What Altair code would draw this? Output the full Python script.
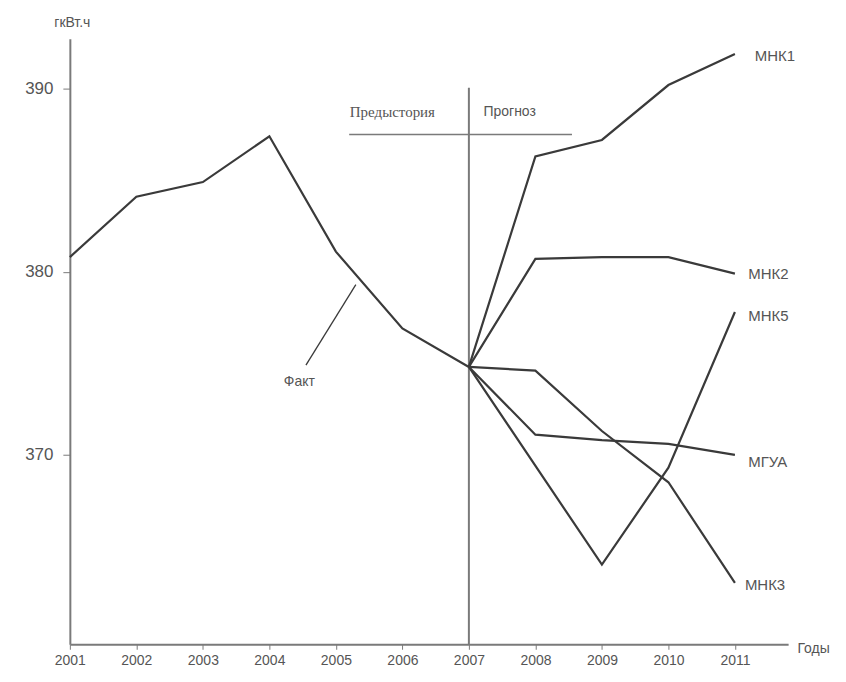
import altair as alt
import pandas as pd

# ---- data ----
fact_years = [2001, 2002, 2003, 2004, 2005, 2006, 2007]
fact_vals = [380.8, 384.1, 384.9, 387.4, 381.1, 376.9, 374.8]

mnk1_years = [2007, 2008, 2009, 2010, 2011]
mnk1_vals = [374.8, 386.3, 387.2, 390.2, 391.9]

mnk2_years = [2007, 2008, 2009, 2010, 2011]
mnk2_vals = [374.8, 380.7, 380.8, 380.8, 379.9]

mnk5_years = [2007, 2009, 2010, 2011]
mnk5_vals = [374.8, 364.0, 369.3, 377.8]

mgua_years = [2007, 2008, 2009, 2010, 2011]
mgua_vals = [374.8, 371.1, 370.8, 370.6, 370.0]

mnk3_years = [2007, 2008, 2009, 2010, 2011]
mnk3_vals = [374.8, 374.6, 371.3, 368.5, 363.0]

label_names = ["МНК1", "МНК2", "МНК5", "МГУА", "МНК3"]
label_years = [2011.3, 2011.2, 2011.2, 2011.2, 2011.15]
label_vals = [391.8, 379.9, 377.6, 369.6, 362.9]

x_ticks = list(range(2001, 2012))
y_ticks = [370, 380, 390]

x_domain = [2001, 2011.8]
y_domain = [359.65, 392.73]

LINE = "#3a3a3a"
AXIS = "#7a7a7a"
TXT = "#555555"

rows = []
for name, ys, vs in [("Факт", fact_years, fact_vals), ("МНК1", mnk1_years, mnk1_vals),
                     ("МНК2", mnk2_years, mnk2_vals), ("МНК5", mnk5_years, mnk5_vals),
                     ("МГУА", mgua_years, mgua_vals), ("МНК3", mnk3_years, mnk3_vals)]:
    for y, v in zip(ys, vs):
        rows.append({"series": name, "year": y, "value": v})
df = pd.DataFrame(rows)

xs = alt.Scale(domain=x_domain, nice=False, zero=False)
ys_ = alt.Scale(domain=y_domain, nice=False, zero=False)

base = alt.Chart(df)

lines = base.mark_line(color=LINE, strokeWidth=2.2).encode(
    x=alt.X("year:Q", scale=xs,
            axis=alt.Axis(values=x_ticks, format="d", title="Годы", grid=False,
                          domainColor=AXIS, domainWidth=2, tickColor=AXIS, tickSize=5,
                          labelColor=TXT, labelFontSize=14, labelFont="Liberation Sans",
                          labelPadding=4, labelFlush=False,
                          titleColor=TXT, titleFontSize=14, titleFont="Liberation Sans",
                          titleFontWeight="normal", titleX=745, titleY=4,
                          titleAlign="center", titleBaseline="middle")),
    y=alt.Y("value:Q", scale=ys_,
            axis=alt.Axis(values=y_ticks, title="гкВт.ч", grid=False,
                          domainColor=AXIS, domainWidth=2, tickColor=AXIS, tickSize=7,
                          labelColor=TXT, labelFontSize=17, labelFont="Liberation Sans",
                          labelPadding=10,
                          titleColor=TXT, titleFontSize=14, titleFont="Liberation Sans",
                          titleFontWeight="normal", titleAngle=0, titleX=2, titleY=-16,
                          titleAlign="center", titleBaseline="middle")),
    detail="series:N",
)

# end labels
lab_df = pd.DataFrame({"name": label_names, "year": label_years, "value": label_vals})
end_labels = alt.Chart(lab_df).mark_text(
    align="left", baseline="middle", fontSize=15, font="Liberation Sans", color=TXT
).encode(x=alt.X("year:Q", scale=xs), y=alt.Y("value:Q", scale=ys_), text="name:N")

# divider: vertical line at 2007 and horizontal line under captions
div_v = pd.DataFrame({"x": [2007], "y1": [390.05], "y2": [y_domain[0]]})
vline = alt.Chart(div_v).mark_rule(color=AXIS, strokeWidth=2).encode(
    x=alt.X("x:Q", scale=xs), y=alt.Y("y1:Q", scale=ys_), y2="y2:Q")

div_h = pd.DataFrame({"x1": [2005.2], "x2": [2008.55], "y": [387.5]})
hline = alt.Chart(div_h).mark_rule(color=AXIS, strokeWidth=1.5).encode(
    x=alt.X("x1:Q", scale=xs), x2="x2:Q", y=alt.Y("y:Q", scale=ys_))

cap1 = pd.DataFrame({"x": [2005.85], "y": [388.7], "t": ["Предыстория"]})
cap1_t = alt.Chart(cap1).mark_text(fontSize=15, font="Liberation Serif", color=TXT,
                                   align="center", baseline="middle").encode(
    x=alt.X("x:Q", scale=xs), y=alt.Y("y:Q", scale=ys_), text="t:N")

cap2 = pd.DataFrame({"x": [2007.22], "y": [388.7], "t": ["Прогноз"]})
cap2_t = alt.Chart(cap2).mark_text(fontSize=14, font="Liberation Sans", color=TXT,
                                   align="left", baseline="middle").encode(
    x=alt.X("x:Q", scale=xs), y=alt.Y("y:Q", scale=ys_), text="t:N")

# Факт leader line and label
lead = pd.DataFrame({"x1": [2005.3], "y1": [379.3], "x2": [2004.55], "y2": [374.9]})
lead_r = alt.Chart(lead).mark_rule(color=LINE, strokeWidth=1.3).encode(
    x=alt.X("x1:Q", scale=xs), y=alt.Y("y1:Q", scale=ys_), x2="x2:Q", y2="y2:Q")
fact_lab = pd.DataFrame({"x": [2004.45], "y": [374.0], "t": ["Факт"]})
fact_t = alt.Chart(fact_lab).mark_text(fontSize=14, font="Liberation Sans", color=TXT,
                                       align="center", baseline="middle").encode(
    x=alt.X("x:Q", scale=xs), y=alt.Y("y:Q", scale=ys_), text="t:N")

chart = alt.layer(vline, hline, lines, end_labels, cap1_t, cap2_t, lead_r, fact_t).properties(
    width=720, height=607,
    background="white",
    autosize=alt.AutoSizeParams(type="none"),
    padding={"left": 62, "top": 30, "right": 50, "bottom": 30},
).configure_view(stroke=None)

chart.save("out.html", embed_options={"renderer": "svg", "actions": False})
